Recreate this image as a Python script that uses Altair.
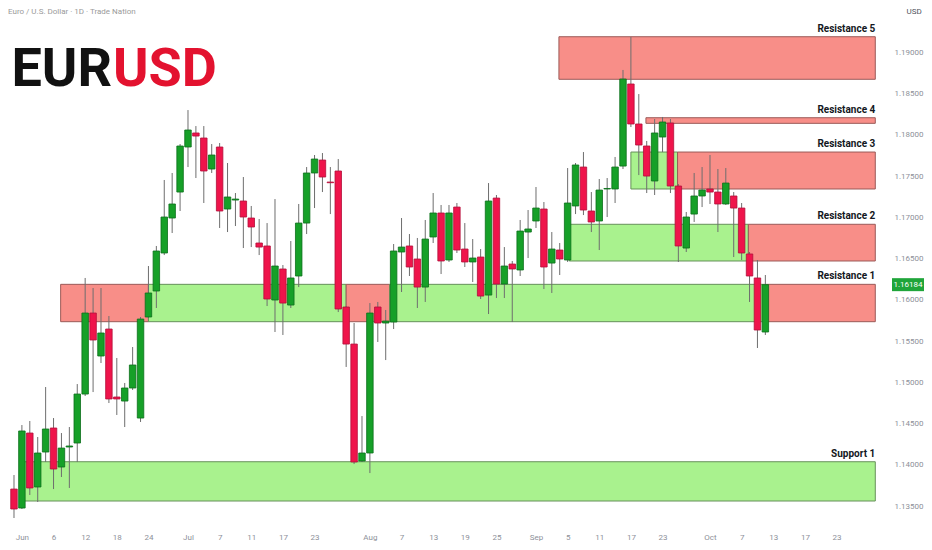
import json
import altair as alt
import pandas as pd

# ---------------- data ----------------
dates = [d.strftime("%Y-%m-%d") for d in pd.bdate_range("2025-05-30", "2025-10-10")]

opens = [1.13706, 1.13476, 1.14385, 1.13731, 1.14155, 1.14446, 1.13973, 1.14216, 1.14264, 1.14858,
         1.15840, 1.15319, 1.15646, 1.14822, 1.14773, 1.14931, 1.14567, 1.15792, 1.16107, 1.16568,
         1.16992, 1.17307, 1.17853, 1.18023, 1.17962, 1.17586, 1.17853, 1.17101, 1.17210, 1.17198,
         1.16992, 1.16689, 1.16653, 1.15998, 1.16374, 1.15937, 1.16289, 1.16931, 1.17538, 1.17695,
         1.17428, 1.17562, 1.15913, 1.15464, 1.14046, 1.14143, 1.15913, 1.15719, 1.15731, 1.16580,
         1.16653, 1.16495, 1.16155, 1.16762, 1.17053, 1.16483, 1.17125, 1.16616, 1.16459, 1.16519,
         1.16058, 1.17234, 1.16192, 1.16434, 1.16362, 1.16822, 1.16956, 1.17101, 1.16446, 1.16604,
         1.16483, 1.17138, 1.17610, 1.17077, 1.16956, 1.17344, 1.17344, 1.17622, 1.18617, 1.18132,
         1.17865, 1.17441, 1.17974, 1.18144, 1.17380, 1.16628, 1.17040, 1.17259, 1.17344, 1.17307,
         1.17162, 1.17259, 1.17113, 1.16556, 1.16265, 1.15610]
highs = [1.13876, 1.14482, 1.14531, 1.14337, 1.14943, 1.14567, 1.14385, 1.14458, 1.14979, 1.16265,
         1.16143, 1.16143, 1.15804, 1.15295, 1.14992, 1.15428, 1.15792, 1.16410, 1.16653, 1.17453,
         1.17538, 1.17889, 1.18301, 1.18107, 1.18107, 1.17889, 1.17901, 1.17659, 1.17295, 1.17489,
         1.17138, 1.16980, 1.16931, 1.17222, 1.16422, 1.16713, 1.17162, 1.17610, 1.17756, 1.17780,
         1.17610, 1.17707, 1.15925, 1.15719, 1.14591, 1.15961, 1.15974, 1.15877, 1.16677, 1.16992,
         1.16798, 1.16750, 1.16968, 1.17295, 1.17150, 1.17150, 1.17174, 1.16931, 1.16737, 1.16616,
         1.17416, 1.17271, 1.16640, 1.16471, 1.16968, 1.17089, 1.17368, 1.17186, 1.16822, 1.16689,
         1.17598, 1.17659, 1.17792, 1.17307, 1.17465, 1.17477, 1.17732, 1.18787, 1.19187, 1.18495,
         1.17926, 1.18192, 1.18217, 1.18192, 1.17404, 1.17065, 1.17538, 1.17610, 1.17756, 1.17586,
         1.17598, 1.17307, 1.17174, 1.16580, 1.16483, 1.16301]
lows = [1.13149, 1.13464, 1.13634, 1.13549, 1.14034, 1.13706, 1.13852, 1.13719, 1.14034, 1.14834,
        1.14882, 1.15234, 1.14749, 1.14604, 1.14458, 1.14907, 1.14519, 1.15780, 1.15901, 1.16543,
        1.16810, 1.17077, 1.17610, 1.17477, 1.17174, 1.17538, 1.16871, 1.16822, 1.16895, 1.16628,
        1.16640, 1.16543, 1.15925, 1.15610, 1.15574, 1.15901, 1.16155, 1.16798, 1.17113, 1.17307,
        1.17040, 1.15852, 1.15186, 1.14009, 1.14034, 1.13900, 1.15489, 1.15270, 1.15646, 1.16095,
        1.16289, 1.15901, 1.15974, 1.16689, 1.16313, 1.16459, 1.16568, 1.16398, 1.16216, 1.16010,
        1.15828, 1.16022, 1.16022, 1.15731, 1.16289, 1.16507, 1.16871, 1.16131, 1.16083, 1.16301,
        1.16459, 1.17040, 1.17028, 1.16822, 1.16604, 1.17004, 1.17174, 1.17586, 1.18095, 1.17513,
        1.17295, 1.17271, 1.17792, 1.17295, 1.16459, 1.16580, 1.16944, 1.17125, 1.17162, 1.16822,
        1.17150, 1.16519, 1.16483, 1.15974, 1.15416, 1.15574]
closes = [1.13464, 1.14410, 1.13719, 1.14143, 1.14434, 1.13949, 1.14203, 1.14228, 1.14858, 1.15840,
          1.15513, 1.15598, 1.14798, 1.14798, 1.14931, 1.15210, 1.15767, 1.16083, 1.16592, 1.17004,
          1.17162, 1.17865, 1.18059, 1.17986, 1.17562, 1.17756, 1.17077, 1.17247, 1.17222, 1.17004,
          1.16883, 1.16640, 1.16010, 1.16410, 1.15961, 1.16265, 1.16931, 1.17538, 1.17707, 1.17489,
          1.17420, 1.15889, 1.15464, 1.14034, 1.14143, 1.15840, 1.15719, 1.15743, 1.16592, 1.16640,
          1.16398, 1.16155, 1.16737, 1.17053, 1.16471, 1.17053, 1.16604, 1.16459, 1.16507, 1.16046,
          1.17198, 1.16192, 1.16410, 1.16374, 1.16834, 1.16859, 1.17113, 1.16398, 1.16616, 1.16495,
          1.17174, 1.17635, 1.17089, 1.16944, 1.17331, 1.17350, 1.17610, 1.18677, 1.18132, 1.17877,
          1.17501, 1.18023, 1.18156, 1.17380, 1.16653, 1.17004, 1.17259, 1.17331, 1.17307, 1.17162,
          1.17416, 1.17113, 1.16568, 1.16289, 1.15634, 1.16184]

# x-axis ticks (trading-day index -> label)
tick_pos = [1, 5, 9, 13, 17, 22, 26, 30, 34, 38, 45, 49, 53, 57, 61, 66, 70, 74, 78, 82, 88, 92, 96, 100, 104]
tick_text = ["Jun", "6", "12", "18", "24", "Jul", "7", "11", "17", "23", "Aug", "7", "13", "19", "25",
             "Sep", "5", "11", "17", "23", "Oct", "7", "13", "17", "23"]
price_ticks = [1.135, 1.14, 1.145, 1.15, 1.155, 1.16, 1.165, 1.17, 1.175, 1.18, 1.185, 1.19]

# drawn zones (bar index range, price range)
zone_start = [5.9, 17.0, 42.0, 47.5, 95.2, 1.3, 70.2, 92.85, 78.0, 83.9, 79.9, 68.9]
zone_end = [17.0, 42.0, 47.5, 95.2, 108.9, 108.9, 92.85, 108.9, 83.9, 108.9, 108.9, 108.9]
zone_low = [1.15735, 1.15735, 1.15735, 1.15735, 1.15735, 1.13561, 1.16471, 1.16471,
            1.17344, 1.17344, 1.18140, 1.18674]
zone_high = [1.16188, 1.16188, 1.16188, 1.16188, 1.16188, 1.14037, 1.16916, 1.16916,
             1.17792, 1.17792, 1.18208, 1.19190]
zone_kind = ["supply", "demand", "supply", "demand", "supply", "demand", "demand", "supply",
             "demand", "supply", "supply", "supply"]

label_text = ["Resistance 5", "Resistance 4", "Resistance 3", "Resistance 2", "Resistance 1", "Support 1"]
label_price = [1.19190, 1.18208, 1.17792, 1.16916, 1.16188, 1.14037]
label_end = [108.9, 108.9, 108.9, 108.9, 108.9, 108.9]

header_text = ["Euro / U.S. Dollar · 1D · Trade Nation"]
logo_left = ["EUR"]
logo_right = ["USD"]

# ---------------- tables ----------------
candles = pd.DataFrame({"i": list(range(len(dates))), "date": dates, "open": opens,
                        "high": highs, "low": lows, "close": closes})
zones = pd.DataFrame({"x0": zone_start, "x1": zone_end, "p0": zone_low, "p1": zone_high, "kind": zone_kind})
labels = pd.DataFrame({"name": label_text, "x1": label_end, "p1": label_price})
last = pd.DataFrame({"p": [closes[-1]]})

FONT = "Roboto"
xs = alt.Scale(domain=[-0.125, 109.875], nice=False, zero=False)
ys = alt.Scale(domain=[1.13355, 1.195383], nice=False, zero=False)

label_expr = f"{json.dumps(tick_text)}[indexof({json.dumps(tick_pos)}, datum.value)]"
xaxis = alt.Axis(title=None, values=tick_pos, labelExpr=label_expr, labelFontSize=8, labelFont=FONT,
                 labelColor="#8d9099", ticks=False, domain=False, grid=False, labelPadding=15,
                 labelFlush=False, labelOverlap=False)
yaxis = alt.Axis(orient="right", values=price_ticks, format=".5f", labelFontSize=8, labelFont=FONT,
                 labelColor="#8d9099", ticks=False, domain=False, grid=False, labelPadding=6,
                 labelFlush=False, labelOverlap=False, title="USD", titleAngle=0, titleX=18, titleY=3,
                 titleAlign="left", titleBaseline="middle", titleFontSize=8, titleFontWeight="normal",
                 titleColor="#50535e", titleFont=FONT)

up = "datum.close >= datum.open"

zone_layer = alt.Chart(zones).mark_rect(strokeWidth=1, clip=True).encode(
    x=alt.X("x0:Q", scale=xs, axis=xaxis),
    x2="x1:Q",
    y=alt.Y("p0:Q", scale=ys, axis=yaxis),
    y2="p1:Q",
    fill=alt.Fill("kind:N", scale=alt.Scale(domain=["supply", "demand"], range=["#f88e88", "#a9f28e"]), legend=None),
    stroke=alt.Stroke("kind:N", scale=alt.Scale(domain=["supply", "demand"], range=["#9b5a58", "#66905a"]), legend=None),
)

wicks = alt.Chart(candles).mark_rule(color="#6e6e6e", strokeWidth=1, clip=True).encode(
    x=alt.X("i:Q", scale=xs, axis=xaxis),
    y=alt.Y("low:Q", scale=ys, axis=yaxis),
    y2="high:Q",
)

bodies = alt.Chart(candles).mark_bar(size=6.5, strokeWidth=0.8, clip=True).encode(
    x=alt.X("i:Q", scale=xs, axis=xaxis),
    y=alt.Y("open:Q", scale=ys, axis=yaxis),
    y2="close:Q",
    color=alt.condition(up, alt.value("#16a028"), alt.value("#ef144b")),
    stroke=alt.condition(up, alt.value("#0b6e1b"), alt.value("#b30f3a")),
)

zone_labels = alt.Chart(labels).mark_text(align="right", baseline="bottom", dy=-3, fontSize=10,
                                           fontWeight="bold", font=FONT, color="#131722").encode(
    x=alt.X("x1:Q", scale=xs, axis=xaxis),
    y=alt.Y("p1:Q", scale=ys, axis=yaxis),
    text="name:N",
)

price_box = alt.Chart(last).mark_point(shape="M-1,-0.406H1V0.406H-1Z", size=1024, filled=True,
                                       color="#1fa53a", opacity=1).encode(
    x=alt.value(900),
    y=alt.Y("p:Q", scale=ys, axis=yaxis),
)
price_text = alt.Chart(last).mark_text(color="white", fontSize=8, font=FONT).encode(
    x=alt.value(900),
    y=alt.Y("p:Q", scale=ys, axis=yaxis),
    text=alt.Text("p:Q", format=".5f"),
)

header = alt.Chart(pd.DataFrame({"t": header_text})).mark_text(
    align="left", baseline="middle", fontSize=8, font=FONT, color="#9a9a9a").encode(
    x=alt.value(0), y=alt.value(4), text="t:N")

LOGO_FONT = "Roboto"
logo_l = alt.Chart(pd.DataFrame({"t": logo_left})).mark_text(
    align="right", baseline="alphabetic", fontSize=54, fontWeight="bold", font=LOGO_FONT,
    color="#111111").encode(x=alt.value(104), y=alt.value(78), text="t:N")
logo_r = alt.Chart(pd.DataFrame({"t": logo_right})).mark_text(
    align="left", baseline="alphabetic", fontSize=54, fontWeight="bold", font=LOGO_FONT,
    color="#e3122f").encode(x=alt.value(105), y=alt.value(78), text="t:N")

chart = alt.layer(
    zone_layer, wicks, bodies, zone_labels, price_box, price_text, header, logo_l, logo_r,
).properties(
    width=880, height=510,
    autosize=alt.AutoSizeParams(type="none"),
    padding={"left": 0, "top": 0, "right": 36, "bottom": 24},
    background="white",
).configure_view(stroke=None)

chart.save("out.html", embed_options={"renderer": "svg", "actions": False})
